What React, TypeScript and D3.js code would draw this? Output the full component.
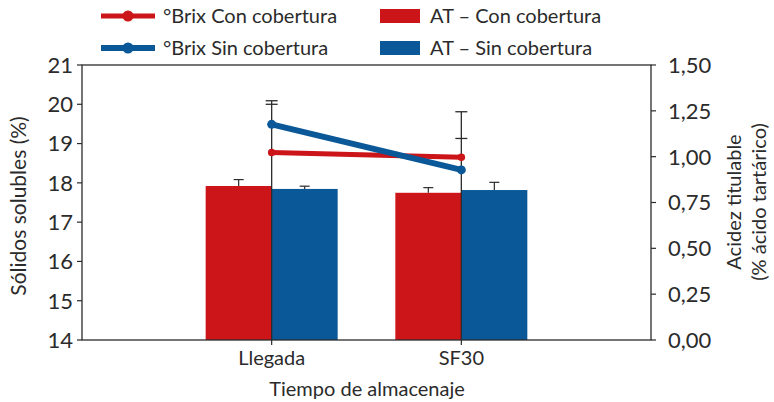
import React from "react";
import * as d3 from "d3";

// Storage time categories
const categories = ["Llegada", "SF30"];

// °Brix (soluble solids, left axis) with upper error
const brixCon = [18.77, 18.65];
const brixConErr = [1.23, 0.48];
const brixSin = [19.49, 18.33];
const brixSinErr = [0.6, 1.48];

// Titratable acidity (right axis) with error
const atCon = [0.84, 0.803];
const atConErr = [0.035, 0.028];
const atSin = [0.824, 0.818];
const atSinErr = [0.015, 0.042];

const leftTicks = [14, 15, 16, 17, 18, 19, 20, 21];
const rightTicks = [0, 0.25, 0.5, 0.75, 1.0, 1.25, 1.5];

const RED = "#cc1519";
const BLUE = "#0b5898";
const FONT = "Lato, 'Open Sans', sans-serif";
const INK = "#2b2b2b";

const W = 774;
const H = 402;
const M = { left: 82, right: 651, top: 65, bottom: 340 };

export default function App() {
  const x = d3.scalePoint<string>().domain(categories).range([M.left, M.right]).padding(1);
  const yL = d3.scaleLinear().domain([14, 21]).range([M.bottom, M.top]);
  const yR = d3.scaleLinear().domain([0, 1.5]).range([M.bottom, M.top]);
  const barW = 66;
  const fmtR = (v: number) => d3.format(".2f")(v).replace(".", ",");

  const lineGen = d3
    .line<number>()
    .x((_, i) => x(categories[i]) as number)
    .y((d) => yL(d));

  const bars = [
    { vals: atCon, err: atConErr, color: RED, off: -barW },
    { vals: atSin, err: atSinErr, color: BLUE, off: 0 },
  ];
  const lines = [
    { vals: brixCon, err: brixConErr, color: RED, w: 5 },
    { vals: brixSin, err: brixSinErr, color: BLUE, w: 6 },
  ];

  return (
    <div style={{ position: "fixed", left: 0, top: 0 }}>
      <svg width={W} height={H} style={{ display: "block", background: "#fff" }} fontFamily={FONT}>
        {/* bars: titratable acidity */}
        {bars.map((s, si) =>
          categories.map((c, i) => {
            const cx = (x(c) as number) + s.off;
            return (
              <g key={`b${si}${i}`}>
                <rect x={cx} y={yR(s.vals[i])} width={barW} height={M.bottom - yR(s.vals[i])} fill={s.color} />
                <line x1={cx + barW / 2} x2={cx + barW / 2} y1={yR(s.vals[i])} y2={yR(s.vals[i] + s.err[i])} stroke={INK} strokeWidth={1.2} />
                <line x1={cx + barW / 2 - 5} x2={cx + barW / 2 + 5} y1={yR(s.vals[i] + s.err[i])} y2={yR(s.vals[i] + s.err[i])} stroke={INK} strokeWidth={1.2} />
              </g>
            );
          })
        )}

        {/* error stems of the °Brix series, from the top cap to the baseline */}
        {categories.map((c, i) => {
          const cx = x(c) as number;
          const top = Math.max(brixCon[i] + brixConErr[i], brixSin[i] + brixSinErr[i]);
          return (
            <g key={`e${i}`}>
              <line x1={cx} x2={cx} y1={yL(top)} y2={M.bottom} stroke={INK} strokeWidth={1.3} />
              {lines.map((s, si) => (
                <line key={si} x1={cx - 6} x2={cx + 6} y1={yL(s.vals[i] + s.err[i])} y2={yL(s.vals[i] + s.err[i])} stroke={INK} strokeWidth={1.3} />
              ))}
            </g>
          );
        })}

        {/* °Brix lines */}
        {lines.map((s, si) => (
          <g key={`l${si}`}>
            <path d={lineGen(s.vals) as string} fill="none" stroke={s.color} strokeWidth={s.w} strokeLinecap="round" />
            {s.vals.map((v, i) => (
              <circle key={i} cx={x(categories[i]) as number} cy={yL(v)} r={s.w * 0.75} fill={s.color} />
            ))}
          </g>
        ))}

        {/* frame */}
        <rect x={M.left} y={M.top} width={M.right - M.left} height={M.bottom - M.top} fill="none" stroke={INK} strokeWidth={1.3} />

        {/* left axis */}
        {leftTicks.map((t) => (
          <g key={`lt${t}`}>
            <line x1={M.left - 5} x2={M.left} y1={yL(t)} y2={yL(t)} stroke={INK} strokeWidth={1.2} />
            <text x={M.left - 9} y={yL(t)} dy="0.36em" textAnchor="end" fontSize={22} fill={INK}>
              {t}
            </text>
          </g>
        ))}
        <text transform={`translate(26,206) rotate(-90)`} textAnchor="middle" fontSize={21} fill={INK}>
          Sólidos solubles (%)
        </text>

        {/* right axis */}
        {rightTicks.map((t) => (
          <g key={`rt${t}`}>
            <line x1={M.right} x2={M.right + 5} y1={yR(t)} y2={yR(t)} stroke={INK} strokeWidth={1.2} />
            <text x={M.right + 17} y={yR(t)} dy="0.36em" textAnchor="start" fontSize={22} fill={INK}>
              {fmtR(t)}
            </text>
          </g>
        ))}
        <text transform={`translate(741,202) rotate(-90)`} textAnchor="middle" fontSize={20} fill={INK}>
          Acidez titulable
        </text>
        <text transform={`translate(766,202) rotate(-90)`} textAnchor="middle" fontSize={20} fill={INK}>
          (% ácido tartárico)
        </text>

        {/* bottom axis */}
        {categories.map((c) => (
          <g key={`xt${c}`}>
            <line x1={x(c) as number} x2={x(c) as number} y1={M.bottom} y2={M.bottom + 5} stroke={INK} strokeWidth={1.2} />
            <text x={x(c) as number} y={365} textAnchor="middle" fontSize={20} fill={INK}>
              {c}
            </text>
          </g>
        ))}
        <text x={367} y={396} textAnchor="middle" fontSize={20} fill={INK}>
          Tiempo de almacenaje
        </text>

        {/* legend */}
        {lines.map((s, i) => (
          <g key={`lg${i}`} transform={`translate(0,${16 + i * 32})`}>
            <line x1={101} x2={155} y1={0} y2={0} stroke={s.color} strokeWidth={s.w} />
            <circle cx={128} cy={0} r={5.5} fill={s.color} />
            <text x={163} y={0} dy="0.36em" fontSize={20} fill={INK}>
              {i === 0 ? "°Brix Con cobertura" : "°Brix Sin cobertura"}
            </text>
          </g>
        ))}
        {bars.map((s, i) => (
          <g key={`lb${i}`} transform={`translate(0,${16 + i * 32})`}>
            <rect x={380} y={-7} width={40} height={14} fill={s.color} />
            <text x={430} y={0} dy="0.36em" fontSize={20} fill={INK}>
              {i === 0 ? "AT – Con cobertura" : "AT – Sin cobertura"}
            </text>
          </g>
        ))}
      </svg>
    </div>
  );
}
